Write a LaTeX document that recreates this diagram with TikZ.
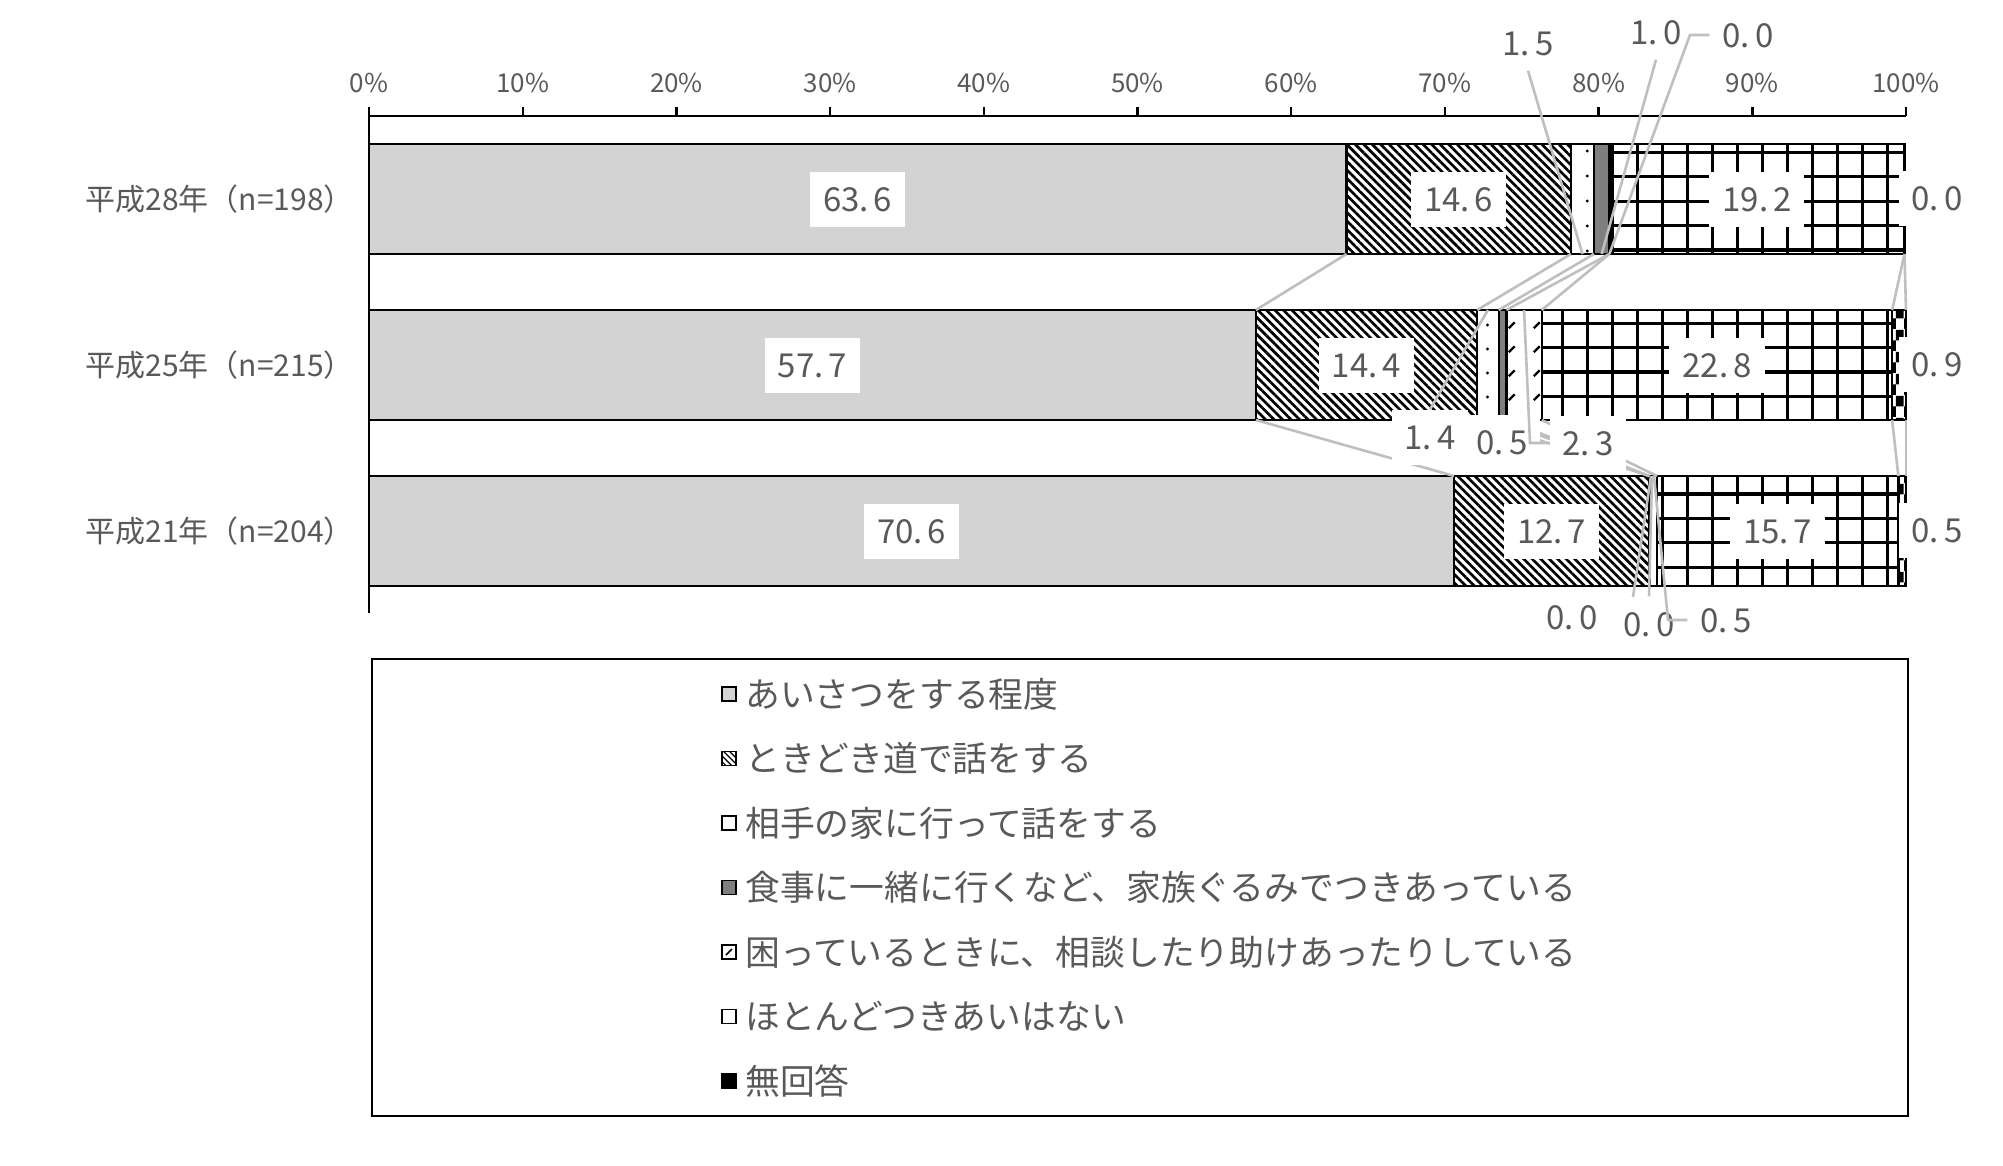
\documentclass[tikz,border=0pt]{standalone}
\usepackage{fontspec}
\setmainfont{Noto Sans CJK JP}
\usetikzlibrary{patterns,patterns.meta,calc}

\definecolor{txt}{HTML}{595959}
\definecolor{bargray}{HTML}{D3D3D3}
\definecolor{darkseg}{HTML}{7F7F7F}
\definecolor{lgray}{HTML}{BFBFBF}

\pgfdeclarepatternformonly{bgrid}{\pgfqpoint{-1pt}{-1pt}}{\pgfqpoint{26pt}{25.4pt}}{\pgfqpoint{25pt}{24.4pt}}{%
  \pgfsetlinewidth{3.2pt}%
  \pgfpathmoveto{\pgfqpoint{12.5pt}{-1pt}}\pgfpathlineto{\pgfqpoint{12.5pt}{25.4pt}}%
  \pgfpathmoveto{\pgfqpoint{-1pt}{12.2pt}}\pgfpathlineto{\pgfqpoint{26pt}{12.2pt}}%
  \pgfusepath{stroke}}
\pgfdeclarepatternformonly{sdots}{\pgfqpoint{0pt}{0pt}}{\pgfqpoint{25pt}{24.4pt}}{\pgfqpoint{25pt}{24.4pt}}{%
  \pgfpathcircle{\pgfqpoint{12.5pt}{12.2pt}}{1.7pt}\pgfusepath{fill}}
\pgfdeclarepatternformonly{sslash}{\pgfqpoint{0pt}{0pt}}{\pgfqpoint{25pt}{24.4pt}}{\pgfqpoint{25pt}{24.4pt}}{%
  \pgfsetlinewidth{2.4pt}%
  \pgfpathmoveto{\pgfqpoint{9pt}{9pt}}\pgfpathlineto{\pgfqpoint{15pt}{15pt}}\pgfusepath{stroke}}
\pgfdeclarepatternformonly{chk}{\pgfqpoint{0pt}{0pt}}{\pgfqpoint{16pt}{22pt}}{\pgfqpoint{16pt}{22pt}}{%
  \pgfpathrectangle{\pgfqpoint{0pt}{0pt}}{\pgfqpoint{8pt}{11pt}}%
  \pgfpathrectangle{\pgfqpoint{8pt}{11pt}}{\pgfqpoint{8pt}{11pt}}\pgfusepath{fill}}

\newcommand\nm[2]{#1.\kern0.15em#2}
\newcommand\bseg[4]{\path[seg,#4] ({369+15.37*#2},#1) rectangle ({369+15.37*#3},{#1+110});}

\begin{document}
\begin{tikzpicture}[x=1pt,y=-1pt,
  seg/.style={draw=black,line width=2.4pt,preaction={fill=white}},
  sgray/.style={fill=bargray},
  shatch/.style={pattern={Lines[angle=-45,distance=6pt,line width=2.7pt]}},
  sdot/.style={pattern=sdots},
  sdark/.style={fill=darkseg},
  sslsh/.style={pattern=sslash},
  sgrid/.style={pattern=bgrid},
  schk/.style={pattern=chk},
  axisline/.style={draw=black,line width=2.4pt},
  ser/.style={draw=lgray,line width=2.6pt},
  lead/.style={draw=lgray,line width=2.6pt},
  lab/.style={fill=white,text=txt,font={\fontsize{33pt}{36pt}\selectfont},inner xsep=13pt,inner ysep=0pt,text height=24pt,text depth=0pt,minimum height=55pt},
  ticklab/.style={text=txt,font={\fontsize{26pt}{30pt}\selectfont},inner sep=0pt},
  catlab/.style={text=txt,font={\fontsize{30pt}{34pt}\selectfont},inner sep=0pt,anchor=east},
  leglab/.style={text=txt,font={\fontsize{34.8pt}{38pt}\selectfont},inner sep=0pt,anchor=west},
  legmark/.style={draw=black,line width=1.8pt,minimum size=14pt,inner sep=0pt}
]
\useasboundingbox (0,0) rectangle (2003,1165);

% ---- bars ----
% 平成28年
\bseg{144}{0}{63.6}{sgray}
\bseg{144}{63.6}{78.2}{shatch}
\bseg{144}{78.2}{79.7}{sdot}
\bseg{144}{79.7}{80.7}{sdark}
\bseg{144}{80.7}{99.9}{sgrid}
% 平成25年
\bseg{310}{0}{57.7}{sgray}
\bseg{310}{57.7}{72.1}{shatch}
\bseg{310}{72.1}{73.5}{sdot}
\bseg{310}{73.5}{74.0}{sdark}
\bseg{310}{74.0}{76.3}{sslsh}
\bseg{310}{76.3}{99.1}{sgrid}
\bseg{310}{99.1}{100}{schk}
% 平成21年
\bseg{476}{0}{70.6}{sgray}
\bseg{476}{70.6}{83.3}{shatch}
\bseg{476}{83.3}{83.8}{sslsh}
\bseg{476}{83.8}{99.5}{sgrid}
\bseg{476}{99.5}{100}{schk}

% ---- axis ----
\coordinate (ax0) at (369,116);
\coordinate (ax100) at (1906,116);
\coordinate (axtop) at (369,107);
\coordinate (axbot) at (369,613);
\draw[axisline] (ax0) -- (ax100);
\draw[axisline] (axtop) -- (axbot);
\foreach \p in {10,20,...,100}{
  \draw[axisline] ({369+15.37*\p},107) coordinate (tk\p) -- ({369+15.37*\p},116);
}
\foreach \p in {0,10,...,100}{
  \node[ticklab] (t\p) at ({369+15.37*\p},83) {\p\%};
}

% ---- category labels ----
\node[catlab] (c28) at (354,199) {平成28年（n=198）};
\node[catlab] (c25) at (354,365) {平成25年（n=215）};
\node[catlab] (c21) at (354,531) {平成21年（n=204）};

% ---- series lines ----
\foreach \i/\a/\b in {1/63.6/57.7,2/78.2/72.1,3/79.7/73.5,4/80.7/74.0,5/80.7/76.3,6/99.9/99.1,7/99.9/100}{
  \draw[ser] ({369+15.37*\a},254) coordinate (sa\i) -- ({369+15.37*\b},310) coordinate (sb\i);
}
\foreach \i/\a/\b in {1/57.7/70.6,2/72.1/83.3,3/73.5/83.3,4/74.0/83.3,5/76.3/83.8,6/99.1/99.5,7/100/100}{
  \draw[ser] ({369+15.37*\a},420) coordinate (sc\i) -- ({369+15.37*\b},476) coordinate (sd\i);
}

% ---- data labels inside bars ----
\node[lab] (v1a) at (857.8,199) {\nm{63}{6}};
\node[lab] (v1b) at (1458.7,199) {\nm{14}{6}};
\node[lab] (v1f) at (1756.9,199) {\nm{19}{2}};
\node[lab] (v2a) at (812.4,365) {\nm{57}{7}};
\node[lab] (v2b) at (1366.5,365) {\nm{14}{4}};
\node[lab] (v2f) at (1717,365) {\nm{22}{8}};
\node[lab] (v3a) at (911.6,531) {\nm{70}{6}};
\node[lab] (v3b) at (1551.7,531) {\nm{12}{7}};
\node[lab] (v3f) at (1777.7,531) {\nm{15}{7}};

% ---- outside labels ----
\node[lab] (l15) at (1528,43) {\nm{1}{5}};
\node[lab] (l10) at (1656,32) {\nm{1}{0}};
\node[lab] (l00a) at (1748,35) {\nm{0}{0}};
\node[lab] (r1) at (1937,198) {\nm{0}{0}};
\node[lab] (r2) at (1937,364) {\nm{0}{9}};
\node[lab] (r3) at (1937,530) {\nm{0}{5}};
\node[lab] (l14) at (1430,437) {\nm{1}{4}};
\node[lab] (l05b) at (1502,442) {\nm{0}{5}};
\node[lab] (l23) at (1588,443) {\nm{2}{3}};
\node[lab] (l00c) at (1572,617) {\nm{0}{0}};
\node[lab] (l00d) at (1649,624) {\nm{0}{0}};
\node[lab] (l05c) at (1726,620) {\nm{0}{5}};

% ---- leader lines ----
\coordinate (p15) at ({369+15.37*78.95},254);
\coordinate (p10) at ({369+15.37*80.2},254);
\coordinate (k00a) at (1690,35);
\coordinate (p00a) at ({369+15.37*80.7},254);
\coordinate (p14) at ({369+15.37*72.8},310);
\coordinate (k23) at (1530,443);
\coordinate (p23) at ({369+15.37*75.15},310);
\coordinate (q00c) at (1633,597);
\coordinate (p00c) at (1651,476);
\coordinate (p00d) at (1652,476);
\coordinate (k05c) at (1668,620);
\coordinate (p05c) at (1654,476);
\draw[lead] (l15.south) -- (p15);
\draw[lead] (l10.south) -- (p10);
\draw[lead] (l00a.west) -- (k00a) -- (p00a);
\draw[lead] (l14.north) -- (p14);
\draw[lead] (l23.west) -- (k23) -- (p23);
\draw[lead] (q00c) -- (p00c);
\draw[lead] (l00d.north) -- (p00d);
\draw[lead] (l05c.west) -- (k05c) -- (p05c);

% ---- legend ----
\draw[line width=2.4pt] (372,659) rectangle (1908,1116);
\node[legmark,fill=bargray] (m1) at (729,694) {};
\node[legmark,preaction={fill=white},pattern={Lines[angle=-45,distance=4pt,line width=1.6pt]}] (m2) at (729,758.5) {};
\node[legmark,fill=white] (m3) at (729,823) {};
\node[legmark,fill=darkseg] (m4) at (729,887.5) {};
\node[legmark,fill=white] (m5) at (729,952) {};
\draw[line width=1.6pt] ($(m5.center)+(-3,3)$) -- ($(m5.center)+(3,-3)$);
\node[legmark,fill=white] (m6) at (729,1016.5) {};
\node[legmark,fill=black] (m7) at (729,1081) {};
\node[leglab] (g1) at (745,694) {あいさつをする程度};
\node[leglab] (g2) at (745,758.5) {ときどき道で話をする};
\node[leglab] (g3) at (745,823) {相手の家に行って話をする};
\node[leglab] (g4) at (745,887.5) {食事に一緒に行くなど、家族ぐるみでつきあっている};
\node[leglab] (g5) at (745,952) {困っているときに、相談したり助けあったりしている};
\node[leglab] (g6) at (745,1016.5) {ほとんどつきあいはない};
\node[leglab] (g7) at (745,1081) {無回答};
\end{tikzpicture}
\end{document}
